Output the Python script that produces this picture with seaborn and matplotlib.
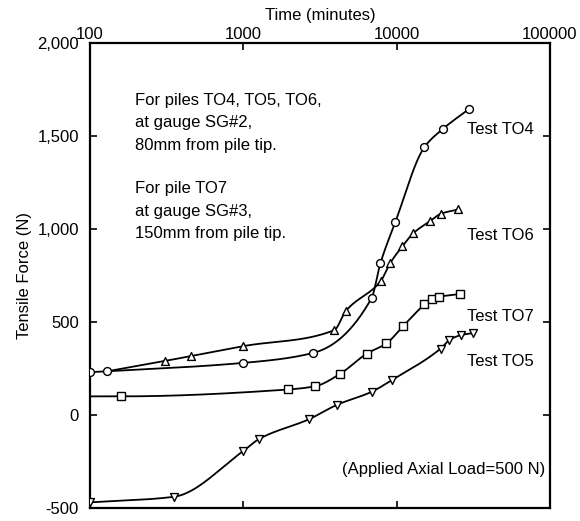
import numpy as np
import pandas as pd
import matplotlib
matplotlib.use("Agg")
import matplotlib.pyplot as plt
import matplotlib.ticker as mticker
import seaborn as sns

# values: time (minutes) and tensile force (N)
to4_time = [100, 130, 1000, 2870, 6870, 7850, 9800, 15200, 20000, 29600]
to4_force = [230, 235, 280, 334, 628, 815, 1035, 1440, 1537, 1644]

to6_time = [130, 307, 457, 1000, 3920, 4680, 7900, 9100, 10900, 12900, 16600, 19500, 25300]
to6_force = [235, 290, 317, 370, 456, 560, 721, 817, 906, 978, 1043, 1082, 1105]

to7_time = [100, 159, 1960, 2960, 4300, 6400, 8600, 11000, 15200, 17000, 19000, 25800]
to7_force = [100, 100, 137, 155, 222, 330, 385, 476, 594, 626, 636, 650]

to5_time = [100, 352, 1000, 1270, 2700, 4100, 6900, 9300, 19400, 22100, 26500, 31400]
to5_force = [-470, -440, -194, -129, -22, 55, 125, 187, 357, 403, 430, 440]

x_ticks = [100, 1000, 10000, 100000]
x_tick_labels = ["100", "1000", "10000", "100000"]
y_ticks = [-500, 0, 500, 1000, 1500, 2000]


def smooth(t, f, n=300):
    # monotone cubic (pchip) through the readings, in log-time
    x = np.log10(np.asarray(t, float))
    y = np.asarray(f, float)
    h = np.diff(x)
    d = np.diff(y) / h
    m = np.zeros_like(y)
    m[0], m[-1] = d[0], d[-1]
    for k in range(1, len(x) - 1):
        if d[k - 1] * d[k] > 0:
            w1 = 2 * h[k] + h[k - 1]
            w2 = h[k] + 2 * h[k - 1]
            m[k] = (w1 + w2) / (w1 / d[k - 1] + w2 / d[k])
    xs = np.linspace(x[0], x[-1], n)
    i = np.clip(np.searchsorted(x, xs) - 1, 0, len(x) - 2)
    s = (xs - x[i]) / h[i]
    h00 = 2 * s**3 - 3 * s**2 + 1
    h10 = s**3 - 2 * s**2 + s
    h01 = -2 * s**3 + 3 * s**2
    h11 = s**3 - s**2
    ys = h00 * y[i] + h10 * h[i] * m[i] + h01 * y[i + 1] + h11 * h[i] * m[i + 1]
    return pd.DataFrame({"time": 10**xs, "force": ys})


sns.set_style("ticks")
plt.rcParams["font.family"] = ["Liberation Sans", "DejaVu Sans"]
plt.rcParams["font.size"] = 12
for key in ["text.color", "axes.labelcolor", "xtick.color", "ytick.color", "axes.edgecolor"]:
    plt.rcParams[key] = "black"

fig = plt.figure(figsize=(5.8, 5.21), dpi=100)
ax = fig.add_axes([0.155, 0.025, 0.793, 0.8925])
ax.set_xscale("log")

series = [
    (to4_time, to4_force, "o", 0),
    (to6_time, to6_force, "^", 1),
    (to7_time, to7_force, "s", 1),
    (to5_time, to5_force, "v", 0),
]
for t, f, mk, skip in series:
    sns.lineplot(data=smooth(t, f), x="time", y="force", ax=ax, color="black",
                 lw=1.3, sort=False, estimator=None)
    sns.scatterplot(x=t[skip:], y=f[skip:], ax=ax, marker=mk, s=32, color="white",
                    edgecolor="black", linewidth=1.0, zorder=3)

ax.set_xlim(100, 100000)
ax.set_ylim(-500, 2000)
ax.set_xticks(x_ticks, labels=x_tick_labels)
ax.xaxis.set_minor_locator(mticker.NullLocator())
ax.set_yticks(y_ticks)
ax.yaxis.set_major_formatter(mticker.FuncFormatter(lambda v, _: f"{v:,.0f}"))

ax.xaxis.tick_top()
ax.xaxis.set_label_position("top")
ax.tick_params(axis="x", which="both", top=True, bottom=True, labeltop=True,
               labelbottom=False, direction="in", length=5, width=1.2, pad=1)
ax.tick_params(axis="y", left=True, right=True, direction="in", length=5,
               width=1.2, pad=8)
for sp in ax.spines.values():
    sp.set_visible(True)
    sp.set_linewidth(1.6)

ax.set_xlabel("Time (minutes)", labelpad=5)
ax.set_ylabel("Tensile Force (N)", labelpad=4)

ax.text(0.098, 0.893, "For piles TO4, TO5, TO6,\nat gauge SG#2,\n80mm from pile tip.",
        transform=ax.transAxes, va="top", ha="left", linespacing=1.62)
ax.text(0.098, 0.703, "For pile TO7\nat gauge SG#3,\n150mm from pile tip.",
        transform=ax.transAxes, va="top", ha="left", linespacing=1.62)

for label, yy in [("Test TO4", 0.813), ("Test TO6", 0.587),
                  ("Test TO7", 0.411), ("Test TO5", 0.314)]:
    ax.text(0.82, yy, label, transform=ax.transAxes, va="center", ha="left")
ax.text(0.548, 0.082, "(Applied Axial Load=500 N)", transform=ax.transAxes,
        va="center", ha="left")

fig.savefig("out.png", dpi=100)
